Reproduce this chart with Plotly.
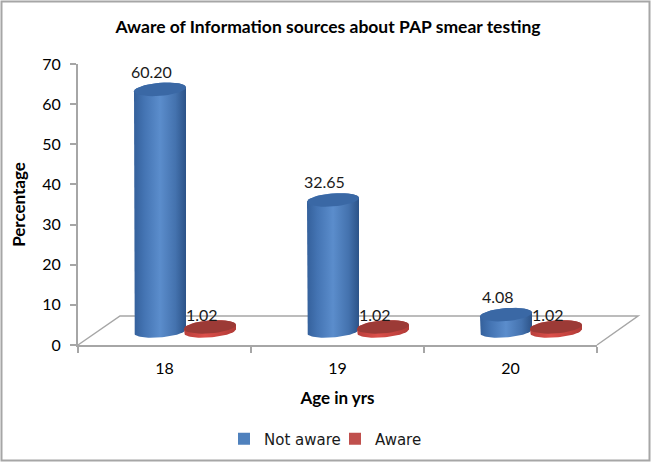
import math
import plotly.graph_objects as go

# values
age_groups = ["18", "19", "20"]
not_aware = [60.20, 32.65, 4.08]
aware = [1.02, 1.02, 1.02]
y_ticks = [0, 10, 20, 30, 40, 50, 60, 70]

W, H = 651, 462
L, R, T, B = 78, 54, 64, 117
GREY = "#a6a6a6"
FONT = "Lato"
LEGEND_FONT = "DejaVu Sans"

px_x = 3 / (W - L - R)   # data units per pixel
px_y = 70 / (H - T - B)

floor_level = 14 * px_y      # cylinders stand on the floor, not on the axis
cyl_a = 26 * px_x
cyl_b = 6.5 * px_y
cyl_tilt = 2 * px_y

blue_offset, red_offset = -4.5 * px_x, 45.5 * px_x

blue_body = [[0, "#34609b"], [0.2, "#4474b3"], [0.5, "#5b8dcc"], [0.8, "#4472ae"], [1, "#2c5388"]]
red_body = [[0, "#b83f3b"], [0.4, "#dc4f4a"], [1, "#b03a36"]]


def arc(cx, cy, t0, t1, n=40):
    xs, ys = [], []
    for i in range(n + 1):
        t = t0 + (t1 - t0) * i / n
        xs.append(cx + cyl_a * math.cos(t))
        ys.append(cy + cyl_b * math.sin(t) + cyl_tilt * math.cos(t))
    return xs, ys


def add_cylinder(fig, cx, value, scale, cap_color):
    top = floor_level + value
    # side of the cylinder
    x1, y1 = arc(cx, top, 0, math.pi)
    x2, y2 = arc(cx, floor_level, math.pi, 2 * math.pi)
    fig.add_trace(go.Scatter(
        x=x1 + x2 + x1[:1], y=y1 + y2 + y1[:1],
        mode="lines", line=dict(width=0), fill="toself",
        fillgradient=dict(type="horizontal", colorscale=scale),
        showlegend=False, hoverinfo="skip",
    ))
    # top of the cylinder
    x3, y3 = arc(cx, top, 0, 2 * math.pi)
    fig.add_trace(go.Scatter(
        x=x3, y=y3,
        mode="lines", line=dict(width=0), fill="toself", fillcolor=cap_color,
        showlegend=False, hoverinfo="skip",
    ))


fig = go.Figure()

positions = list(range(len(age_groups)))

# real bars underneath, they also give the legend
fig.add_trace(go.Bar(
    x=[p + blue_offset for p in positions], y=not_aware, base=floor_level,
    width=cyl_a * 1.8, name="Not aware", marker=dict(color="#4f81bd", line=dict(width=0)),
))
fig.add_trace(go.Bar(
    x=[p + red_offset for p in positions], y=aware, base=floor_level,
    width=cyl_a * 1.8, name="Aware", marker=dict(color="#c0504d", line=dict(width=0)),
))

for p, v in zip(positions, not_aware):
    add_cylinder(fig, p + blue_offset, v, blue_body, "#3a68a5")
for p, v in zip(positions, aware):
    add_cylinder(fig, p + red_offset, v, red_body, "#9c3a36")

for p, v in zip(positions, not_aware):
    fig.add_annotation(x=p - 13 * px_x, y=floor_level + v, text=f"{v:.2f}", showarrow=False,
                       yshift=18, font=dict(size=16, color="#1a1a1a", family=FONT))
for p, v in zip(positions, aware):
    fig.add_annotation(x=p + 37 * px_x, y=floor_level + v, text=f"{v:.2f}", showarrow=False,
                       yshift=12, font=dict(size=16, color="#1a1a1a", family=FONT))

# floor of the 3d box, in paper units because it runs past the plot area
pw, ph = W - L - R, H - T - B
fig.add_shape(type="path", xref="paper", yref="paper",
              path=f"M 0 0 L {42 / pw} {29 / ph} L {560 / pw} {29 / ph} L 1 0",
              line=dict(color=GREY, width=1.5), layer="below")

# outer frame of the chart
fig.add_shape(type="rect", xref="paper", yref="paper",
              x0=(1.5 - L) / pw, x1=(W - 1.5 - L) / pw,
              y0=(H - B - (H - 1.5)) / ph, y1=(H - B - 1.5) / ph,
              line=dict(color=GREY, width=2), layer="below")

fig.update_layout(
    width=W, height=H,
    margin=dict(l=L, r=R, t=T, b=B),
    barmode="overlay",
    paper_bgcolor="white", plot_bgcolor="rgba(0,0,0,0)",
    font=dict(family=FONT, color="black", size=16),
    title=dict(text="<b>Aware of Information sources about PAP smear testing</b>",
               x=328 / W, xanchor="center", y=1 - 27 / H, yanchor="middle",
               font=dict(size=17.5, family=FONT, color="black")),
    legend=dict(orientation="h", x=224 / W, xref="container", xanchor="left",
                y=1 - 439 / H, yref="container", yanchor="middle",
                entrywidth=66, entrywidthmode="pixels",
                font=dict(size=15, family=LEGEND_FONT, color="#1a1a1a")),
)
fig.update_xaxes(
    range=[-0.5, 2.5], showgrid=False, zeroline=False,
    showline=True, linecolor=GREY, linewidth=2,
    tickvals=positions, ticktext=age_groups,
    ticks="outside", ticklen=8, tickcolor="rgba(0,0,0,0)",
    minor=dict(tickvals=[-0.5, 0.5, 1.5, 2.5], ticks="outside", ticklen=6, tickcolor=GREY, tickwidth=2),
    title=dict(text="<b>Age in yrs</b>", standoff=16, font=dict(size=17, family=FONT)),
)
fig.update_yaxes(
    range=[0, 70], showgrid=False, zeroline=False,
    showline=True, linecolor=GREY, linewidth=2,
    tickvals=y_ticks, ticks="outside", ticklen=6, tickcolor=GREY, tickwidth=2,
    ticklabelstandoff=6,
    title=dict(text="<b>Percentage</b>", standoff=12, font=dict(size=17, family=FONT)),
)

fig.write_html("out.html", config=dict(displayModeBar=False),
               post_script="document.body.style.margin='0';")
